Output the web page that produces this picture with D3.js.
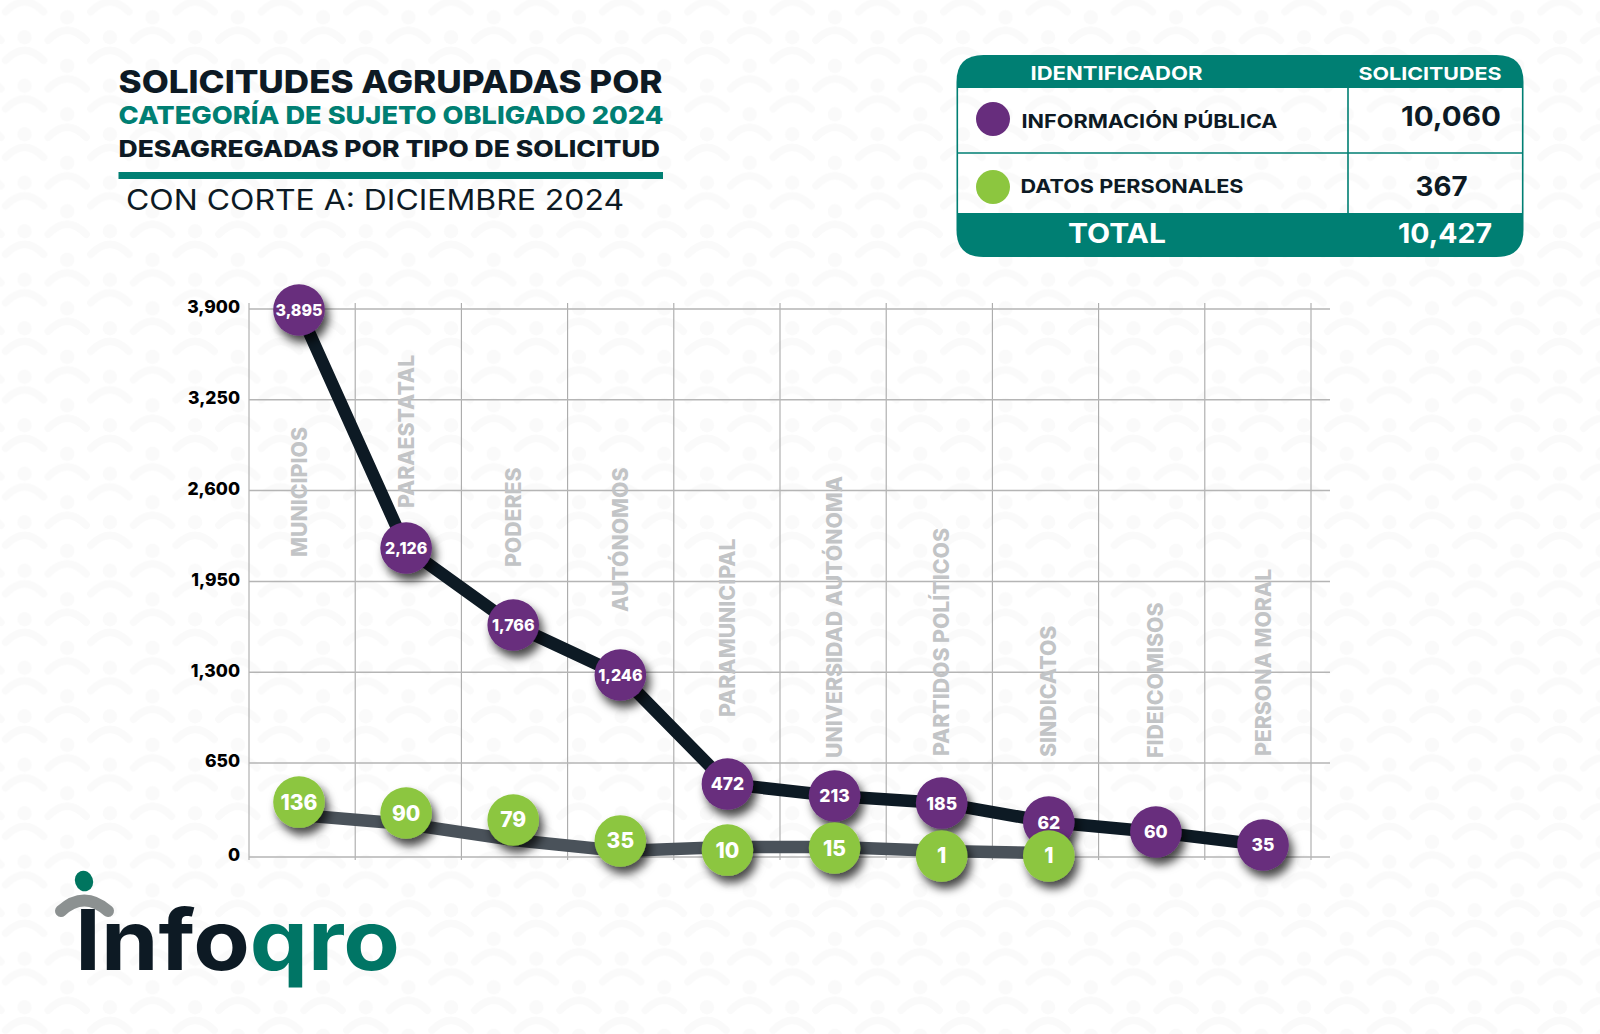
<!DOCTYPE html>
<html lang="es"><head><meta charset="utf-8">
<script src="https://d3js.org/d3.v7.min.js"></script>
<style>html,body{margin:0;padding:0;background:#fff}svg{display:block}text{font-family:Inter,"Noto Sans",sans-serif}</style>
</head><body><svg id="c" width="1600" height="1034" xmlns="http://www.w3.org/2000/svg"></svg>
<script>
// ---- data ----
const categories = ["MUNICIPIOS","PARAESTATAL","PODERES","AUTÓNOMOS","PARAMUNICIPAL","UNIVERSIDAD AUTÓNOMA","PARTIDOS POLÍTICOS","SINDICATOS","FIDEICOMISOS","PERSONA MORAL"];
const informacionPublica = [3895,2126,1766,1246,472,213,185,62,60,35];
const datosPersonales = [136,90,79,35,10,15,1,1];
// heights at which the picture actually draws the marks, read against its y axis
const informacionAltura = [3893,2189,1638,1280,505,422,373,242,173,83];
const datosAltura = [380,304,256,111,48,62,7,7];
const datosLineaAltura = [290,228,118,41,69,69,41,28];
// axis reading at which each rotated category label starts
const etiquetaAltura = [2125,2475,2053,1731,979,686,700,693,686,700];
const yTicks = [0,650,1300,1950,2600,3250,3900];
const tablaFilas = ["INFORMACIÓN PÚBLICA","DATOS PERSONALES"];
const tablaValores = [10060,367];
const tablaTotal = 10427;

const INK="#0d1a24", TEAL="#007f73", PURPLE="#672d7d", GREEN="#8cc63f", LINE2="#4a525a", BGMARK="#fafafa";
const svg=d3.select("#c");
const defs=svg.append("defs");
const fmt=d3.format(",");

// background pattern
const pat=defs.append("pattern").attr("id","bg").attr("patternUnits","userSpaceOnUse")
  .attr("width",85.3).attr("height",48.5).attr("patternTransform","translate(1346.7,308.3)");
const motif=(dx,dy)=>{
  for(const ox of [-85.3,0,85.3]) for(const oy of [-48.5,0,48.5]){
    const g=pat.append("g").attr("transform",`translate(${dx+ox},${dy+oy})`);
    g.append("circle").attr("r",7.2).attr("fill",BGMARK);
    g.append("path").attr("d","M-19,23 Q0,3 19,23").attr("fill","none").attr("stroke",BGMARK).attr("stroke-width",7.5).attr("stroke-linecap","round");
  }
};
motif(0,0); motif(42.65,20);
svg.append("rect").attr("width",1600).attr("height",1034).attr("fill","#fff");
svg.append("rect").attr("width",1600).attr("height",1034).attr("fill","url(#bg)");

const f=defs.append("filter").attr("id","sh").attr("x","-60%").attr("y","-60%").attr("width","240%").attr("height","240%");
f.append("feDropShadow").attr("dx",4).attr("dy",7).attr("stdDeviation",5).attr("flood-color","#000").attr("flood-opacity",.72);

function fit(sel,w){ sel.attr("textLength",w).attr("lengthAdjust","spacingAndGlyphs"); return sel; }
function txt(str,x,y,fs,wt,fill,w,anchor){
  const t=svg.append("text").attr("x",x).attr("y",y).attr("font-size",fs).attr("font-weight",wt).attr("fill",fill).attr("text-anchor",anchor||"start").text(str);
  if(w) fit(t,w);
  return t;
}

// title block
txt("SOLICITUDES AGRUPADAS POR",118.5,93,31,800,INK,544);
txt("CATEGORÍA DE SUJETO OBLIGADO 2024",118.5,123.5,24.5,800,TEAL,545);
txt("DESAGREGADAS POR TIPO DE SOLICITUD",118.5,157,22.5,800,INK,541.5);
svg.append("rect").attr("x",118.5).attr("y",172).attr("width",544.5).attr("height",7).attr("fill",TEAL);
txt("CON CORTE A: DICIEMBRE 2024",126,210,28,400,INK,498);

// table
const T={l:956.5,r:1523.5,t:55,h:88,m:153,b:213,e:257,c:1348,rad:27};
svg.append("path").attr("fill",TEAL).attr("d",`M${T.l},${T.h} V${T.t+T.rad} Q${T.l},${T.t} ${T.l+T.rad},${T.t} H${T.r-T.rad} Q${T.r},${T.t} ${T.r},${T.t+T.rad} V${T.h} Z`);
svg.append("path").attr("fill",TEAL).attr("d",`M${T.l},${T.b} V${T.e-T.rad} Q${T.l},${T.e} ${T.l+T.rad},${T.e} H${T.r-T.rad} Q${T.r},${T.e} ${T.r},${T.e-T.rad} V${T.b} Z`);
svg.append("path").attr("fill","none").attr("stroke",TEAL).attr("stroke-width",1.6)
  .attr("d",`M${T.l+.8},${T.h} V${T.b} M${T.r-.8},${T.h} V${T.b} M${T.l},${T.m} H${T.r} M${T.c},${T.h} V${T.b}`);
txt("IDENTIFICADOR",1030.5,80,18.5,700,"#fff",172);
txt("SOLICITUDES",1358.5,80,18,700,"#fff",143);
[[993,119],[993,187]].forEach((p,i)=>svg.append("circle").attr("cx",p[0]).attr("cy",p[1]).attr("r",17).attr("fill",i?GREEN:PURPLE));
txt(tablaFilas[0],1021.5,128,19,700,INK,256);
txt(tablaFilas[1],1020.5,193,19,700,INK,223);
txt(fmt(tablaValores[0]),1401,126,27,700,INK,100);
txt(fmt(tablaValores[1]),1415.5,196,27,700,INK,52);
txt("TOTAL",1068,243,27,700,"#fff",98);
txt(fmt(tablaTotal),1398,243,27,700,"#fff",94);

// chart scales
const y=d3.scaleLinear().domain([0,650,3900]).range([857,763,309]);
const xBand=d3.scaleBand().domain(categories).range([249,1311]).paddingInner(0).paddingOuter(0);
const x=d3.scalePoint().domain(categories).range([299,1263]);

// grid
const grid=svg.append("g");
grid.selectAll("line.v").data(categories.concat(["_"])).join("line").attr("class","v")
  .attr("x1",(d,i)=>xBand.range()[0]+i*xBand.step()).attr("x2",(d,i)=>xBand.range()[0]+i*xBand.step())
  .attr("y1",303).attr("y2",860).attr("stroke","#a9a9a9").attr("stroke-width",1.1);
grid.selectAll("line.h").data(yTicks).join("line").attr("class","h")
  .attr("x1",249).attr("x2",1330).attr("y1",d=>y(d)).attr("y2",d=>y(d)).attr("stroke","#b5b5b5").attr("stroke-width",1.5);

// y axis
const ax=svg.append("g").attr("transform","translate(249,0)")
  .call(d3.axisLeft(y).tickValues(yTicks).tickFormat(fmt).tickSize(0).tickPadding(9));
ax.select(".domain").remove();
ax.selectAll("text").attr("font-size",17.5).attr("font-weight",800).attr("fill","#000").attr("font-family","Inter").attr("dy","0.22em");

// rotated category labels
svg.append("g").selectAll("text").data(categories).join("text")
  .attr("transform",(d,i)=>`translate(${x(d)},${y(etiquetaAltura[i])}) rotate(-90)`)
  .attr("dominant-baseline","central").attr("font-size",21).attr("font-weight",800).attr("fill","#c2c4c6").text(d=>d)
  .each(function(){const s=d3.select(this); fit(s,this.getComputedTextLength()*1.01);});

// lines
const line=d3.line().x(d=>x(d.c)).y(d=>y(d.v));
svg.append("path").datum(datosLineaAltura.map((v,i)=>({c:categories[i],v})))
  .attr("d",line).attr("fill","none").attr("stroke",LINE2).attr("stroke-width",12.5).attr("stroke-linejoin","round");
svg.append("path").datum(informacionAltura.map((v,i)=>({c:categories[i],v})))
  .attr("d",line).attr("fill","none").attr("stroke",INK).attr("stroke-width",12.5).attr("stroke-linejoin","round");

// markers
function markers(values,heights,fill,fsFn){
  const g=svg.append("g").selectAll("g").data(values).join("g")
    .attr("transform",(d,i)=>`translate(${x(categories[i])},${y(heights[i])})`);
  g.append("circle").attr("r",25.8).attr("fill",fill).attr("filter","url(#sh)");
  g.append("text").attr("text-anchor","middle").attr("dominant-baseline","central")
    .attr("fill","#fff").attr("font-weight",800).attr("font-size",fsFn).text(d=>fmt(d));
}
markers(informacionPublica,informacionAltura,PURPLE,d=>d>=1000?16:17.5);
markers(datosPersonales,datosAltura,GREEN,()=>21);

// logo
svg.append("ellipse").attr("cx",84).attr("cy",881).attr("rx",9).attr("ry",10.5).attr("transform","rotate(-20 84 881)").attr("fill","#00755f");
svg.append("path").attr("d","M61,911 Q84,890 108,911").attr("fill","none").attr("stroke","#8c9191").attr("stroke-width",12).attr("stroke-linecap","round");
const logo=svg.append("text").attr("x",75).attr("y",970).attr("font-size",84).attr("font-weight",700);
logo.append("tspan").attr("fill",INK).text("Info");
logo.append("tspan").attr("fill","#007565").text("qro");
fit(logo,325);
</script></body></html>
